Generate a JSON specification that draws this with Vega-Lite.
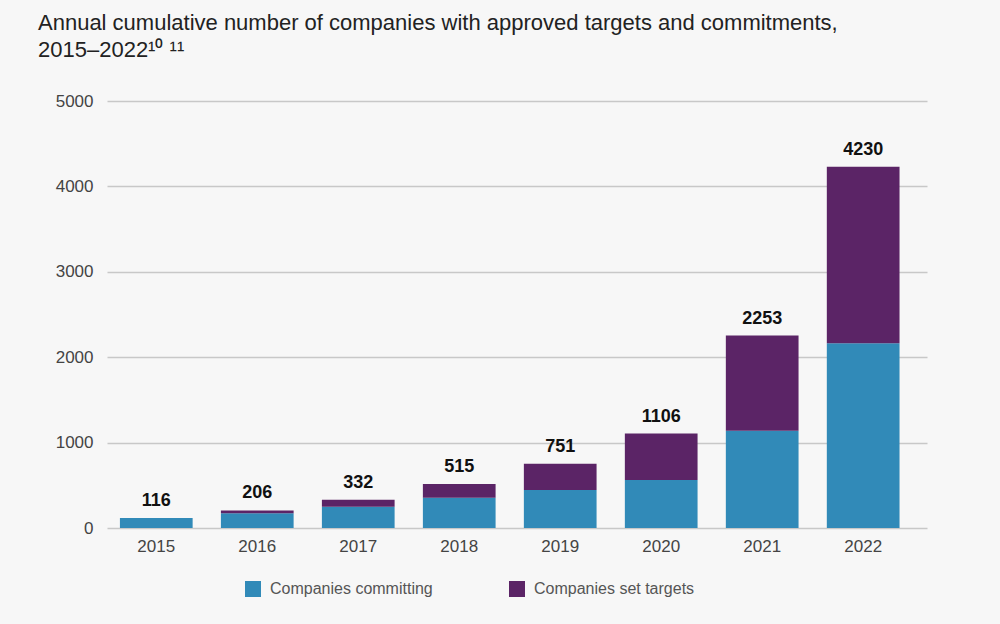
{
  "$schema": "https://vega.github.io/schema/vega-lite/v6.json",
  "width": 820,
  "height": 427,
  "autosize": {"type": "none"},
  "padding": {"left": 107, "top": 101, "right": 73, "bottom": 96},
  "background": "#f7f7f7",
  "title": {
    "text": ["Annual cumulative number of companies with approved targets and commitments,", "2015–2022¹⁰ ¹¹"],
    "anchor": "start",
    "frame": "group",
    "dx": -69,
    "offset": 30,
    "font": "Liberation Sans",
    "fontSize": 22,
    "fontWeight": "normal",
    "color": "#222222",
    "lineHeight": 27
  },
  "datasets": {
    "bars": [
      {"year": "2015", "type": "Companies committing", "value": 116},
      {"year": "2015", "type": "Companies set targets", "value": 0},
      {"year": "2016", "type": "Companies committing", "value": 172},
      {"year": "2016", "type": "Companies set targets", "value": 34},
      {"year": "2017", "type": "Companies committing", "value": 250},
      {"year": "2017", "type": "Companies set targets", "value": 82},
      {"year": "2018", "type": "Companies committing", "value": 355},
      {"year": "2018", "type": "Companies set targets", "value": 160},
      {"year": "2019", "type": "Companies committing", "value": 445},
      {"year": "2019", "type": "Companies set targets", "value": 306},
      {"year": "2020", "type": "Companies committing", "value": 562},
      {"year": "2020", "type": "Companies set targets", "value": 544},
      {"year": "2021", "type": "Companies committing", "value": 1140},
      {"year": "2021", "type": "Companies set targets", "value": 1113},
      {"year": "2022", "type": "Companies committing", "value": 2163},
      {"year": "2022", "type": "Companies set targets", "value": 2067}
    ],
    "totals": [
      {"year": "2015", "total": 116},
      {"year": "2016", "total": 206},
      {"year": "2017", "total": 332},
      {"year": "2018", "total": 515},
      {"year": "2019", "total": 751},
      {"year": "2020", "total": 1106},
      {"year": "2021", "total": 2253},
      {"year": "2022", "total": 4230}
    ]
  },
  "encoding": {
    "x": {
      "field": "year",
      "type": "ordinal",
      "scale": {"paddingInner": 0.28, "paddingOuter": 0.2, "align": 0.32},
      "axis": {
        "title": null,
        "domain": false,
        "ticks": false,
        "labelAngle": 0,
        "labelPadding": 10,
        "labelFont": "Liberation Sans",
        "labelFontSize": 17,
        "labelColor": "#444444"
      }
    },
    "y": {
      "type": "quantitative",
      "scale": {"domain": [0, 5000], "nice": false},
      "axis": {
        "title": null,
        "values": [0, 1000, 2000, 3000, 4000, 5000],
        "format": "d",
        "domain": false,
        "ticks": false,
        "labelPadding": 14,
        "labelFont": "Liberation Sans",
        "labelFontSize": 17,
        "labelColor": "#444444",
        "gridColor": "#c8c8c8",
        "gridWidth": 1.5
      }
    }
  },
  "layer": [
    {
      "data": {"name": "bars"},
      "mark": {"type": "bar"},
      "encoding": {
        "y": {"field": "value", "type": "quantitative", "stack": "zero"},
        "color": {
          "field": "type",
          "type": "nominal",
          "scale": {
            "domain": ["Companies committing", "Companies set targets"],
            "range": ["#318ab8", "#5b2466"]
          },
          "legend": {
            "title": null,
            "orient": "none",
            "legendX": 138,
            "legendY": 480,
            "direction": "horizontal",
            "symbolType": "square",
            "symbolSize": 256,
            "symbolStrokeWidth": 0,
            "symbolOpacity": 1,
            "labelFont": "Liberation Sans",
            "labelFontSize": 16,
            "labelColor": "#555555",
            "labelOffset": 9,
            "columnPadding": 76,
            "labelLimit": 300
          }
        },
        "order": {"field": "type", "sort": "ascending"}
      }
    },
    {
      "data": {"name": "totals"},
      "mark": {
        "type": "text",
        "baseline": "bottom",
        "dy": -8,
        "font": "Liberation Sans",
        "fontSize": 18,
        "fontWeight": "bold",
        "color": "#111111"
      },
      "encoding": {
        "y": {"field": "total", "type": "quantitative"},
        "text": {"field": "total", "type": "quantitative", "format": "d"}
      }
    }
  ],
  "config": {
    "view": {"stroke": null}
  }
}
